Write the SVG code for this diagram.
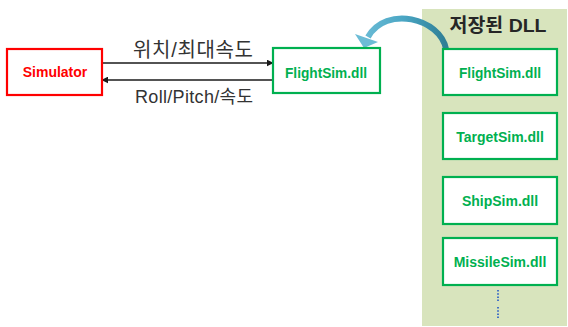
<svg xmlns="http://www.w3.org/2000/svg" width="568" height="327" viewBox="0 0 568 327">
  <style>
    .box { fill: #ffffff; stroke: #00b050; stroke-width: 2.2; }
    .sim { fill: #ffffff; stroke: #ff0000; stroke-width: 2.2; }
    .nodeText { font-family: "Liberation Sans", Arial, sans-serif; font-weight: bold; font-size: 14px; text-anchor: middle; fill: #00b050; }
    .simText { fill: #ff0000; }
    .label { font-family: "Liberation Sans", "Noto Sans CJK KR", sans-serif; font-size: 18px; text-anchor: middle; fill: #333333; }
    .labelKo { font-size: 20px; }
    .title { font-family: "Liberation Sans", "Noto Sans CJK KR", sans-serif; font-size: 19px; font-weight: bold; text-anchor: middle; fill: #262626; }
    .flow { stroke: #1a1a1a; stroke-width: 1.3; fill: none; }
  </style>
  <defs>
    <marker id="arrowHead" viewBox="0 0 10 10" refX="9" refY="5" markerWidth="7" markerHeight="7" markerUnits="userSpaceOnUse" orient="auto">
      <path d="M0,0 L10,5 L0,10 z" fill="#1a1a1a"/>
    </marker>
    <linearGradient id="arcGrad" gradientUnits="userSpaceOnUse" x1="445" y1="40" x2="362" y2="40">
      <stop offset="0" stop-color="#2f7f96"/>
      <stop offset="0.5" stop-color="#4aa6c4"/>
      <stop offset="1" stop-color="#6cbcd6"/>
    </linearGradient>
  </defs>

  <!-- storage panel -->
  <g id="dll-panel">
    <rect x="422" y="9" width="145" height="317" fill="#d8e4bd"/>
    <text class="title" x="498" y="32" textLength="97" lengthAdjust="spacingAndGlyphs">저장된 DLL</text>
  </g>

  <!-- connectors -->
  <g id="connectors">
    <line class="flow" x1="102" y1="63" x2="273" y2="63" marker-end="url(#arrowHead)"/>
    <line class="flow" x1="273" y1="80" x2="102" y2="80" marker-end="url(#arrowHead)"/>
    <path d="M 446 49 C 440 18, 386 5, 368 37" fill="none" stroke="url(#arcGrad)" stroke-width="6"/>
    <polygon points="355,34 378,42 364,48" fill="#6cbcd6"/>
  </g>

  <!-- edge labels -->
  <text class="label labelKo" x="193" y="57" textLength="120" lengthAdjust="spacing">위치/최대속도</text>
  <text class="label" x="194" y="103" textLength="118" lengthAdjust="spacing">Roll/Pitch/속도</text>

  <g id="simulator">
    <rect class="sim" x="7" y="49" width="95" height="46"/>
    <text class="nodeText simText" x="55" y="77">Simulator</text>
  </g>

  <g id="flightsim-loaded">
    <rect class="box" x="273" y="48" width="107" height="45"/>
    <text class="nodeText" x="326" y="77.5" textLength="82" lengthAdjust="spacingAndGlyphs">FlightSim.dll</text>
  </g>

  <g id="flightsim">
    <rect class="box" x="443" y="49" width="114" height="46"/>
    <text class="nodeText" x="500" y="77.5" textLength="82" lengthAdjust="spacingAndGlyphs">FlightSim.dll</text>
  </g>

  <g id="targetsim">
    <rect class="box" x="443" y="113" width="114" height="46"/>
    <text class="nodeText" x="500" y="141.5">TargetSim.dll</text>
  </g>

  <g id="shipsim">
    <rect class="box" x="443" y="177" width="114" height="47"/>
    <text class="nodeText" x="500" y="205.5">ShipSim.dll</text>
  </g>

  <g id="missilesim">
    <rect class="box" x="443" y="238" width="114" height="47"/>
    <text class="nodeText" x="500" y="266.5">MissileSim.dll</text>
  </g>

  <!-- continuation dots -->
  <g id="more" stroke="#4472c4" stroke-width="2" stroke-dasharray="1.6 1.6">
    <line x1="498" y1="290" x2="498" y2="301"/>
    <line x1="498" y1="307" x2="498" y2="318"/>
  </g>
</svg>
